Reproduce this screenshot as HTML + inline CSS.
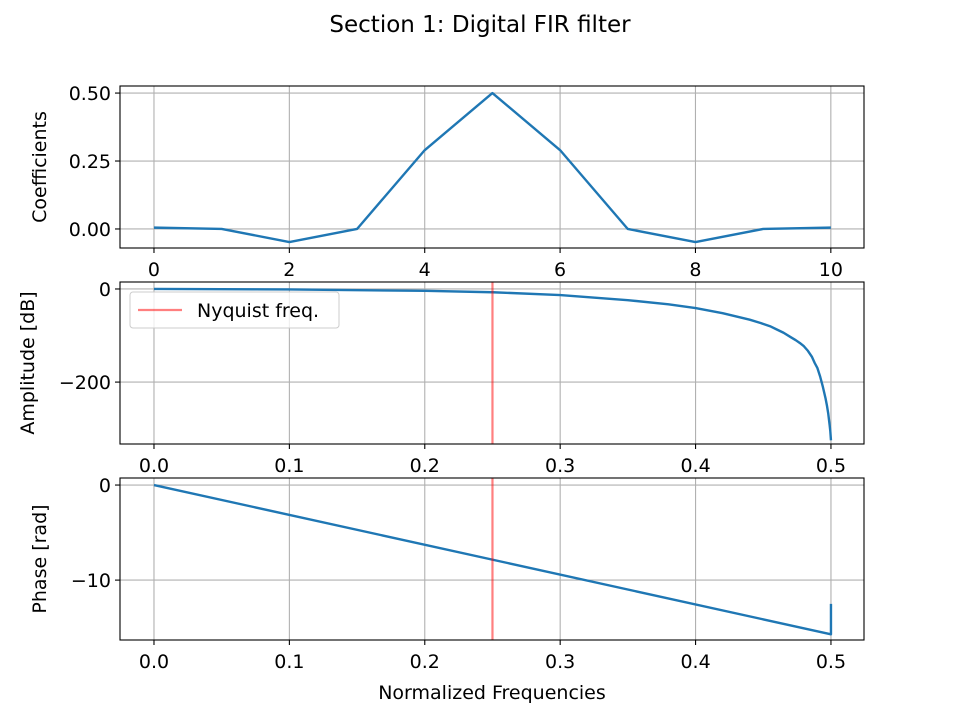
<!DOCTYPE html>
<html><head><meta charset="utf-8">
<style>
html,body{margin:0;padding:0;background:#fff;}
svg{display:block;font-family:"DejaVu Sans","Liberation Sans",sans-serif;}
</style></head>
<body>
<svg id="fig" width="960" height="720" viewBox="0 0 960 720">
<rect width="960" height="720" fill="#fff"/>
<text x="480" y="32" text-anchor="middle" font-size="23">Section 1: Digital FIR filter</text>
</svg>
<script>
// Data
const tapIndex = [0,1,2,3,4,5,6,7,8,9,10];
const coefficients = [0.005,0,-0.048,0,0.29,0.5,0.29,0,-0.048,0,0.005];
const ampFreq = [0,0.1,0.2,0.25,0.3,0.35,0.38,0.4,0.42,0.44,0.448,0.455,0.46,0.465,0.47,0.474,0.477,0.48,0.483,0.486,0.488,0.49,0.492,0.494,0.496,0.497,0.498,0.499,0.4995,0.5];
const ampDb   = [0,-1,-4,-7,-13,-24,-33,-41,-52,-66,-73,-80,-87,-94,-103,-110,-116,-123,-133,-146,-159,-170,-188,-210,-235,-250,-268,-292,-305,-325];
const phaseFreq = [0,0.5,0.5];
const phaseRad  = [0,-15.7,-12.5];
const nyquist = 0.25;
const coefXTicks = [0,2,4,6,8,10];
const coefYTicks = [0,0.25,0.5];
const coefYLabels = ["0.00","0.25","0.50"];
const freqTicks = [0,0.1,0.2,0.3,0.4,0.5];
const freqLabels = ["0.0","0.1","0.2","0.3","0.4","0.5"];
const ampYTicks = [0,-200];
const ampYLabels = ["0","\u2212200"];
const phaseYTicks = [0,-10];
const phaseYLabels = ["0","\u221210"];

const NS="http://www.w3.org/2000/svg";
const svg=document.getElementById('fig');
const FS=19;
function el(tag,attrs,parent){const e=document.createElementNS(NS,tag);for(const k in attrs)e.setAttribute(k,attrs[k]);(parent||svg).appendChild(e);return e;}
function scale(d0,d1,r0,r1){return v=>r0+(v-d0)*(r1-r0)/(d1-d0);}

function axes(name,box,xd,yd,xt,xl,yt,yl,ylabel,xlabel){
  const g=el('g',{});
  
  
  const X=scale(xd[0],xd[1],box.x0,box.x1), Y=scale(yd[0],yd[1],box.y1,box.y0);
  xt.forEach((t,i)=>{
    const x=X(t);
    const gl=el('line',{x1:x,x2:x,y1:box.y0,y2:box.y1,stroke:'#b0b0b0','stroke-width':1.1},g);
    
    
    el('line',{x1:x,x2:x,y1:box.y1,y2:box.y1+5,stroke:'#000','stroke-width':1.1},g);
    const tx=el('text',{x:x,y:box.y1+28,'text-anchor':'middle','font-size':FS},g);
    tx.textContent=xl[i];
    
    
  });
  yt.forEach((t,i)=>{
    const y=Y(t);
    const gl=el('line',{x1:box.x0,x2:box.x1,y1:y,y2:y,stroke:'#b0b0b0','stroke-width':1.1},g);
    
    
    el('line',{x1:box.x0-5,x2:box.x0,y1:y,y2:y,stroke:'#000','stroke-width':1.1},g);
    const tx=el('text',{x:box.x0-9,y:y+7,'text-anchor':'end','font-size':FS},g);
    tx.textContent=yl[i];
    
    
  });
  const cy=(box.y0+box.y1)/2;
  const lab=el('text',{x:0,y:0,'text-anchor':'middle','font-size':FS,transform:`translate(${ylabel[1]},${cy}) rotate(-90)`},g);
  lab.textContent=ylabel[0];
  
  
  if(xlabel){
    const xlb=el('text',{x:(box.x0+box.x1)/2,y:box.y1+59,'text-anchor':'middle','font-size':FS},g);
    xlb.textContent=xlabel;
    
    
  }
  return {g,X,Y,box};
}
function frame(a){
  const r=el('rect',{x:a.box.x0,y:a.box.y0,width:a.box.x1-a.box.x0,height:a.box.y1-a.box.y0,fill:'none',stroke:'#000','stroke-width':1.1},a.g);
  
  
}
function line(a,xs,ys,color,name){
  const p=el('polyline',{points:xs.map((x,i)=>a.X(x)+','+a.Y(ys[i])).join(' '),fill:'none',stroke:color,'stroke-width':2.4,'stroke-linejoin':'round'},a.g);
  
  
}
function vline(a,v){
  const l=el('line',{x1:a.X(v),x2:a.X(v),y1:a.box.y0,y2:a.box.y1,stroke:'#ff0000','stroke-opacity':0.5,'stroke-width':2.2},a.g);
  
  
}

const a1=axes('coefficients-axes',{x0:120,x1:864,y0:86,y1:248},[-0.502,10.49],[-0.07,0.526],coefXTicks,coefXTicks.map(String),coefYTicks,coefYLabels,['Coefficients',46]);
line(a1,tapIndex,coefficients,'#1f77b4','coefficients-line');
frame(a1);

const a2=axes('amplitude-axes',{x0:120,x1:864,y0:282,y1:444},[-0.0251,0.5244],[-333,15],freqTicks,freqLabels,ampYTicks,ampYLabels,['Amplitude [dB]',34]);
line(a2,ampFreq,ampDb,'#1f77b4','amplitude-line');
vline(a2,nyquist);
frame(a2);
// legend
const lg=el('g',{});


el('rect',{x:130,y:292,width:209,height:36,rx:3,fill:'#fff','fill-opacity':0.8,stroke:'#cccccc','stroke-width':1},lg);
const ll=el('line',{x1:138,x2:182,y1:310,y2:310,stroke:'#ff0000','stroke-opacity':0.5,'stroke-width':2.2},lg);


const lt=el('text',{x:197,y:317,'font-size':FS},lg);
lt.textContent='Nyquist freq.';



const a3=axes('phase-axes',{x0:120,x1:864,y0:478,y1:640},[-0.0251,0.5244],[-16.3,0.74],freqTicks,freqLabels,phaseYTicks,phaseYLabels,['Phase [rad]',46],'Normalized Frequencies');
line(a3,phaseFreq,phaseRad,'#1f77b4','phase-line');
vline(a3,nyquist);
frame(a3);
</script>
</body></html>
